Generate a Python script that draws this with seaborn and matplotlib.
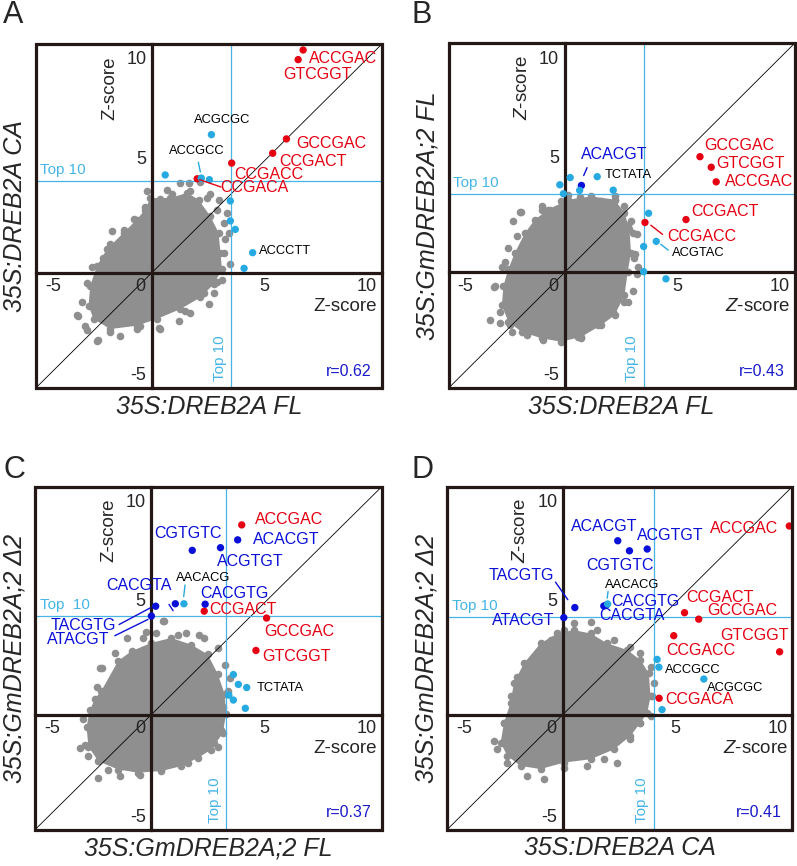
import numpy as np
import pandas as pd
import matplotlib.pyplot as plt
import seaborn as sns
from matplotlib.patches import Rectangle

# ---------------- data: Z-scores ----------------
# A: x = 35S:DREB2A FL, y = 35S:DREB2A CA
A_motif = ['ACCGAC', 'GTCGGT', 'GCCGAC', 'CCGACT', 'CCGACC', 'CCGACA',
           'ACGCGC', 'ACCGCC', '', '', '', '', '', 'ACCCTT', '']
A_group = ['red'] * 6 + ['cyan'] * 9
A_x = [6.71, 6.49, 5.97, 5.36, 3.54, 2.01, 2.64, 2.19, 0.59, 2.55, 3.48, 3.48, 3.70, 4.47, 4.09]
A_y = [9.94, 9.51, 5.97, 5.33, 4.89, 4.19, 6.16, 4.22, 4.36, 4.15, 3.20, 2.31, 1.93, 0.89, 0.19]
# dense body of the grey cloud (outline) and the loose grey points around it
A_body_x = [-0.07, 0.81, 1.56, 2.07, 2.59, 2.96, 3.04, 3.11, 2.74, 2.15, 1.26, 0.22, -0.67,
            -1.85, -2.59, -2.81, -2.74, -2.44, -2.00, -1.26, -0.67, -0.30]
A_body_y = [3.33, 3.33, 3.56, 3.26, 2.52, 1.78, 0.89, 0.15, -0.52, -1.11, -1.63, -2.07, -2.37,
            -2.52, -2.07, -1.48, -0.59, 0.30, 1.04, 1.78, 2.37, 2.81]
A_loose_x = [-0.22, 0.67, 1.14, 1.63, 1.70, 1.26, 2.15, -1.78, -0.52, -1.04, -2.15, -2.37, -2.52,
             -3.26, -2.96, -2.44, -1.85, -0.67, 0.30, 1.19, 1.48, 2.52, 2.30, 2.89, 3.48, 3.19,
             3.26, 3.19, 2.89, 2.44, 0.30, -3.33, -2.86, -2.41, -1.41, -0.52, 0.34, 1.70, 2.74,
             3.11, 3.41, 3.33, 2.96, 2.59, 0.89, 0.37, -0.30, -0.81, -1.26, -1.85, -2.67, -2.86,
             -3.11]
A_loose_y = [3.63, 3.67, 3.08, 4.00, 3.63, 4.00, 4.04, 1.85, 2.30, 1.78, 0.67, 0.30, -0.52,
             -1.93, -2.37, -3.04, -2.67, -2.52, -2.49, -2.15, -1.70, -1.41, -0.89, -0.44, 0.37, 0.89,
             1.48, 2.22, 2.81, 3.33, 2.81, -1.88, -2.55, -3.02, -2.84, -2.40, -2.52, -1.81, -0.92,
             -0.33, 1.75, 2.64, 3.23, 3.53, 3.53, 3.30, 2.93, 2.41, 1.90, 1.30, 0.27, -0.47,
             -1.29]
A_top10 = (3.51, 4.10)
A_r = 0.62

# B: x = 35S:DREB2A FL, y = 35S:GmDREB2A;2 FL
B_motif = ['GCCGAC', 'GTCGGT', 'ACCGAC', 'CCGACT', 'CCGACC', 'ACACGT',
           'TCTATA', '', '', '', '', '', '', '', 'ACGTAC', '', '']
B_group = ['red'] * 5 + ['blue'] + ['cyan'] * 11
B_x = [6.00, 6.50, 6.72, 5.38, 3.56, 0.74, 1.44, -0.22, 0.24, 2.15, -0.06, 0.66, 3.72, 3.50, 4.06, 3.50, 4.49]
B_y = [5.15, 4.68, 4.03, 2.35, 2.22, 3.87, 4.26, 3.90, 4.22, 3.66, 3.50, 3.65, 2.63, 1.15, 1.38, 0.03, -0.29]
B_body_x = [-1.76, -1.32, -0.74, 0.15, 1.18, 2.21, 2.65, 2.87, 2.94, 2.79, 2.65, 2.21, 1.62,
            0.74, -0.15, -1.03, -1.91, -2.50, -2.79, -2.72, -2.50, -2.21]
B_body_y = [1.76, 2.35, 2.79, 3.24, 3.38, 3.24, 2.65, 1.91, 0.88, 0.00, -1.03, -1.91, -2.35,
            -2.87, -3.09, -2.94, -2.65, -2.21, -1.47, -0.59, 0.15, 0.88]
B_loose_x = [-1.94, -1.03, -2.13, -3.09, -3.31, -2.87, -2.35, -0.96, 0.74, 1.47, 2.21, 2.65,
             3.09, 3.24, 3.01, 2.79, 2.21, 0.74, 0.15, -0.66, -2.65, -1.99, -1.03, -0.15, 0.66,
             1.62, 2.21, 2.65, 2.94, 3.21, 3.12, 3.21, 3.01, 2.79, 2.13, 1.47, 0.59, -0.29,
             -1.69, -2.43, -2.87, -3.12, -2.79, -2.50, -2.28]
B_loose_y = [2.68, 2.76, 1.62, -0.59, -2.13, -2.24, -2.65, -3.01, -2.94, -2.13, -1.32, -1.32,
             0.66, 0.22, 1.76, 2.13, 3.38, 3.24, 3.46, 2.79, 0.44, 2.69, 2.94, 3.19, 3.34,
             3.16, 3.24, 2.94, 2.28, 1.69, 0.81, -0.07, -0.81, -1.32, -1.76, -2.35, -2.90, -2.84,
             -2.79, -2.35, -1.76, -0.66, 0.22, 1.10, 2.28]
B_top10 = (3.50, 3.49)
B_r = 0.43

# C: x = 35S:GmDREB2A;2 FL, y = 35S:GmDREB2A;2 d2
C_motif = ['ACCGAC', 'CCGACT', 'GCCGAC', 'GTCGGT', 'ACACGT', 'CGTGTC', 'ACGTGT',
           'CACGTA', 'CACGTG', 'TACGTG', 'ATACGT', 'AACACG', '', '', 'TCTATA', '', '', '']
C_group = ['red'] * 4 + ['blue'] * 7 + ['cyan'] * 7
C_x = [4.00, 2.34, 5.10, 4.63, 3.82, 1.81, 3.06, 1.06, 2.38, 0.19, 0.00, 1.44, 3.63, 3.85, 4.22, 3.43, 3.63, 4.16]
C_y = [8.49, 4.63, 4.32, 2.87, 7.82, 7.35, 7.47, 4.96, 4.94, 4.85, 4.41, 4.96, 1.79, 1.35, 1.21, 0.87, 0.65, 0.28]
C_body_x = [-2.21, -1.47, -0.88, 0.00, 0.88, 1.76, 2.50, 2.94, 3.24, 3.31, 3.16, 2.65, 2.06,
            1.32, 0.44, -0.59, -1.47, -2.35, -2.79, -2.87, -2.72, -2.50]
C_body_y = [1.07, 2.40, 2.84, 3.21, 3.43, 3.13, 2.69, 1.81, 0.93, 0.04, -0.84, -1.57, -1.94,
            -2.31, -2.53, -2.60, -2.46, -2.09, -1.43, -0.54, 0.19, 0.71]
C_loose_x = [0.56, 0.22, 1.18, -1.62, -2.18, -2.43, -3.01, -2.94, -2.79, -1.91, 0.44, 1.62,
             2.94, 3.38, 2.35, 2.94, -0.37, 0.51, 1.54, 2.13, 3.24, 3.46, 3.16, 3.09, 2.79,
             1.54, -0.51, -1.40, -2.35, -3.16, -2.65, -2.28, -1.10, -0.22]
C_loose_y = [4.19, 3.65, 3.57, 2.76, 2.10, 1.22, -0.18, -1.35, -1.87, -2.46, -2.46, -2.16,
             -1.43, 1.07, 3.43, 2.99, 3.43, 4.18, 3.63, 3.56, 2.24, 1.65, 0.32, -0.71, -1.29,
             -2.10, -2.69, -2.76, -2.84, -1.51, -0.12, 2.09, 3.41, 3.71]
C_top10 = (3.31, 4.41)
C_r = 0.37

# D: x = 35S:DREB2A CA, y = 35S:GmDREB2A;2 d2
D_motif = ['ACCGAC', 'CCGACT', 'GCCGAC', 'CCGACC', 'GTCGGT', 'CCGACA', 'ACACGT', 'CGTGTC',
           'ACGTGT', 'TACGTG', 'ATACGT', 'CACGTG', 'CACGTA', 'AACACG', '', 'ACCGCC', 'ACGCGC', '']
D_group = ['red'] * 6 + ['blue'] * 7 + ['cyan'] * 5
D_x = [10.07, 5.41, 6.04, 4.93, 9.64, 4.28, 2.44, 2.96, 3.75, 0.53, 0.04, 1.93, 1.82, 1.99, 4.19, 4.27, 6.27, 4.41]
D_y = [8.44, 4.56, 4.27, 3.53, 2.81, 0.73, 7.78, 7.33, 7.41, 4.79, 4.34, 4.90, 4.86, 4.95, 2.47, 2.12, 1.59, 0.22]
D_body_x = [-2.18, -1.73, -0.99, -0.25, 0.49, 1.23, 1.97, 2.86, 3.45, 3.82, 3.90, 3.75, 3.45,
            3.00, 2.27, 1.23, 0.04, -0.99, -1.88, -2.47, -2.77, -2.62, -2.33]
D_body_y = [1.41, 2.30, 3.19, 3.63, 3.78, 3.63, 3.19, 2.89, 2.44, 1.85, 0.81, 0.07, -0.37,
            -0.96, -1.56, -2.00, -2.15, -2.44, -2.30, -1.85, -1.26, -0.37, 0.52]
D_loose_x = [0.49, 1.23, 1.53, 2.27, 3.00, 3.45, 3.90, 4.04, 3.97, 3.90, 3.45, 3.00, 2.41, 1.82,
             1.08, 0.04, -0.84, -1.59, -2.47, -2.92, -3.07, -2.62, -2.33, -2.03, -1.44, -0.99,
             -0.55, 0.04]
D_loose_y = [4.10, 4.15, 3.78, 3.33, 3.04, 2.74, 2.15, 1.41, 0.81, -0.07, -0.37, -1.11, -2.15,
             -2.00, -2.30, -2.37, -2.89, -2.74, -2.15, -1.56, -1.19, -0.37, 0.81, 1.70, 2.30,
             2.89, 3.33, 3.78]
D_top10 = (4.04, 4.37)
D_r = 0.41

LIM = (-5.15, 10.2)

# ---------------- layout ----------------
sns.set_style('white')
plt.rcParams['font.family'] = ['Liberation Sans', 'DejaVu Sans']
plt.rcParams['mathtext.fontset'] = 'custom'
plt.rcParams['mathtext.it'] = 'Liberation Sans:italic'
plt.rcParams['mathtext.rm'] = 'Liberation Sans'

frame_col = '#231815'
gray = '#8f8f8f'
top_col = '#45b5e6'
palette = {'red': '#e50012', 'blue': '#0a10d8', 'cyan': '#27a9e1'}

panels = {
    'A': dict(motif=A_motif, group=A_group, x=A_x, y=A_y, bx=A_body_x, by=A_body_y,
              lx=A_loose_x, ly=A_loose_y, top=A_top10, r=A_r,
              xl='35S:DREB2A FL', yl='35S:DREB2A CA', zit=False,
              rect=[0.045, 0.552, 0.434, 0.397], letter=(0.004, 1.0), toplab='Top 10'),
    'B': dict(motif=B_motif, group=B_group, x=B_x, y=B_y, bx=B_body_x, by=B_body_y,
              lx=B_loose_x, ly=B_loose_y, top=B_top10, r=B_r,
              xl='35S:DREB2A FL', yl='35S:GmDREB2A;2 FL', zit=True,
              rect=[0.563, 0.552, 0.434, 0.398], letter=(0.516, 1.0), toplab='Top 10'),
    'C': dict(motif=C_motif, group=C_group, x=C_x, y=C_y, bx=C_body_x, by=C_body_y,
              lx=C_loose_x, ly=C_loose_y, top=C_top10, r=C_r,
              xl='35S:GmDREB2A;2 FL', yl='35S:GmDREB2A;2 \u03942', zit=False,
              rect=[0.044, 0.042, 0.435, 0.396], letter=(0.004, 0.475), toplab='Top  10'),
    'D': dict(motif=D_motif, group=D_group, x=D_x, y=D_y, bx=D_body_x, by=D_body_y,
              lx=D_loose_x, ly=D_loose_y, top=D_top10, r=D_r,
              xl='35S:DREB2A CA', yl='35S:GmDREB2A;2 \u03942', zit=True,
              rect=[0.561, 0.042, 0.433, 0.396], letter=(0.516, 0.475), toplab='Top 10'),
}

# label anchor (left, vertical centre) in data units
label_pos = {
    'A': {'ACCGAC': (6.96, 9.57), 'GTCGGT': (5.85, 8.83), 'GCCGAC': (6.40, 5.78),
          'CCGACT': (5.64, 4.96), 'CCGACC': (3.67, 4.39), 'CCGACA': (3.04, 3.78),
          'ACGCGC': (1.85, 6.81), 'ACCGCC': (0.74, 5.41), 'ACCCTT': (4.74, 0.98)},
    'B': {'GCCGAC': (6.18, 5.66), 'GTCGGT': (6.74, 4.85), 'ACCGAC': (7.13, 4.04),
          'CCGACT': (5.62, 2.69), 'CCGACC': (4.53, 1.60), 'ACACGT': (0.74, 5.25),
          'TCTATA': (1.79, 4.34), 'ACGTAC': (4.74, 0.88)},
    'C': {'ACCGAC': (4.60, 8.74), 'CCGACT': (2.57, 4.71), 'GCCGAC': (5.00, 3.71),
          'GTCGGT': (4.93, 2.60), 'ACACGT': (4.51, 7.85), 'CGTGTC': (0.12, 8.09),
          'ACGTGT': (2.90, 6.87), 'CACGTA': (-1.99, 5.79), 'CACGTG': (2.18, 5.40),
          'TACGTG': (-4.46, 4.00), 'ATACGT': (-4.63, 3.34), 'AACACG': (1.07, 6.10),
          'TCTATA': (4.66, 1.21)},
    'D': {'ACCGAC': (6.56, 8.34), 'CCGACT': (5.50, 5.26), 'GCCGAC': (6.44, 4.67),
          'CCGACC': (4.59, 2.86), 'GTCGGT': (7.00, 3.53), 'CCGACA': (4.56, 0.67),
          'ACACGT': (0.34, 8.41), 'CGTGTC': (1.05, 6.67), 'ACGTGT': (3.30, 8.00),
          'TACGTG': (-3.29, 6.22), 'ATACGT': (-3.14, 4.22), 'CACGTG': (2.16, 5.04),
          'CACGTA': (1.63, 4.44), 'AACACG': (1.87, 5.82), 'ACCGCC': (4.56, 2.00),
          'ACGCGC': (6.41, 1.21)},
}
leaders = {
    'A': [((2.12, 4.15), (3.07, 3.82), 'red'), ((2.06, 4.93), (2.15, 4.49), 'cyan')],
    'B': [((3.82, 2.10), (4.34, 1.69), 'red'), ((0.84, 4.31), (0.99, 4.66), 'blue'),
          ((4.26, 1.25), (4.59, 0.99), 'cyan')],
    'C': [((0.78, 4.93), (0.96, 4.65), 'blue'), ((-1.43, 4.03), (-0.04, 4.78), 'blue'),
          ((-1.62, 3.53), (-0.15, 4.26), 'blue'), ((1.49, 5.80), (1.43, 5.28), 'cyan')],
    'D': [((-0.33, 5.93), (0.22, 5.14), 'blue'), ((2.01, 5.51), (1.97, 5.21), 'cyan')],
}

xtick_text = [(-4.4, '-5'), (-0.5, '0'), (5.0, '5'), (9.55, '10')]
ytick_text = [(9.5, '10'), (5.05, '5'), (-4.6, '-5')]

fig = plt.figure(figsize=(7.97, 8.66), dpi=100)

for key, p in panels.items():
    ax = fig.add_axes(p['rect'])
    ax.set_xlim(LIM)
    ax.set_ylim(LIM)

    # grey cloud of all hexamers: dense body + loose points on its rim
    ax.fill(p['bx'], p['by'], color=gray, lw=0, zorder=1)
    sns.scatterplot(x=p['bx'] + p['lx'], y=p['by'] + p['ly'], color=gray, s=30,
                    linewidth=0, ax=ax, zorder=1, legend=False)

    # reference lines
    ax.axline((0, 0), slope=1, color='black', lw=0.6, zorder=2)
    ax.axvline(p['top'][0], color=top_col, lw=0.9, zorder=2)
    ax.axhline(p['top'][1], color=top_col, lw=0.9, zorder=2)

    # central axes through zero, frame around
    for s in ['top', 'right']:
        ax.spines[s].set_visible(False)
    ax.spines['left'].set_position(('data', 0))
    ax.spines['bottom'].set_position(('data', 0))
    for s in ['left', 'bottom']:
        ax.spines[s].set_linewidth(2.3)
        ax.spines[s].set_color(frame_col)
        ax.spines[s].set_zorder(2.5)
    ax.set_xticks([5])
    ax.set_yticks([5])
    ax.tick_params(direction='in', length=5.5, width=2.2, color=frame_col,
                   labelbottom=False, labelleft=False)
    ax.add_patch(Rectangle((0, 0), 1, 1, transform=ax.transAxes, fill=False,
                           lw=2.3, edgecolor=frame_col, clip_on=False, zorder=6))

    # highlighted motifs
    df = pd.DataFrame({'x': p['x'], 'y': p['y'], 'group': p['group'], 'motif': p['motif']})
    sns.scatterplot(data=df, x='x', y='y', hue='group', palette=palette, s=28,
                    linewidth=0, ax=ax, zorder=4, legend=False)

    for _, row in df.iterrows():
        if row['motif'] == '':
            continue
        lx, ly = label_pos[key][row['motif']]
        if row['group'] == 'cyan':
            ax.text(lx, ly, row['motif'], fontsize=9.3, color='black', ha='left',
                    va='center', zorder=5)
        else:
            ax.text(lx, ly, row['motif'], fontsize=11.5, color=palette[row['group']],
                    ha='left', va='center', zorder=5)
    for (x0, y0), (x1, y1), c in leaders[key]:
        ax.plot([x0, x1], [y0, y1], color=palette[c], lw=1.0, zorder=4)

    # tick labels and axis titles
    for v, t in xtick_text:
        ax.text(v, -0.62, t, fontsize=13, ha='center', va='center', zorder=5)
    for v, t in ytick_text:
        ax.text(-0.25, v, t, fontsize=13, ha='right', va='center', zorder=5)
    zlab = '$Z$-score' if p['zit'] else 'Z-score'
    ax.text(10.0, -1.5, zlab, fontsize=13.5, ha='right', va='center', zorder=5)
    ax.text(-1.88, 8.25, zlab, fontsize=13.5, ha='center', va='center', rotation=90, zorder=5)

    ax.text(-4.95, p['top'][1] + 0.5, p['toplab'], fontsize=11, color=top_col,
            ha='left', va='center', zorder=5)
    ax.text(p['top'][0] - 0.5, -4.85, 'Top 10', fontsize=11, color=top_col,
            ha='center', va='bottom', rotation=90, zorder=5)
    ax.text(9.75, -4.4, f'r={p["r"]:.2f}', fontsize=11.5, color='#1a1acd',
            ha='right', va='center', zorder=5)

    ax.text(0.5, -0.055, p['xl'], transform=ax.transAxes, fontsize=18, style='italic',
            ha='center', va='center')
    ax.text(-0.06, 0.5, p['yl'], transform=ax.transAxes, fontsize=18, style='italic',
            ha='center', va='center', rotation=90)

    fig.text(p['letter'][0], p['letter'][1], key, fontsize=22, ha='left', va='top')

fig.savefig('out.png', dpi=100)
